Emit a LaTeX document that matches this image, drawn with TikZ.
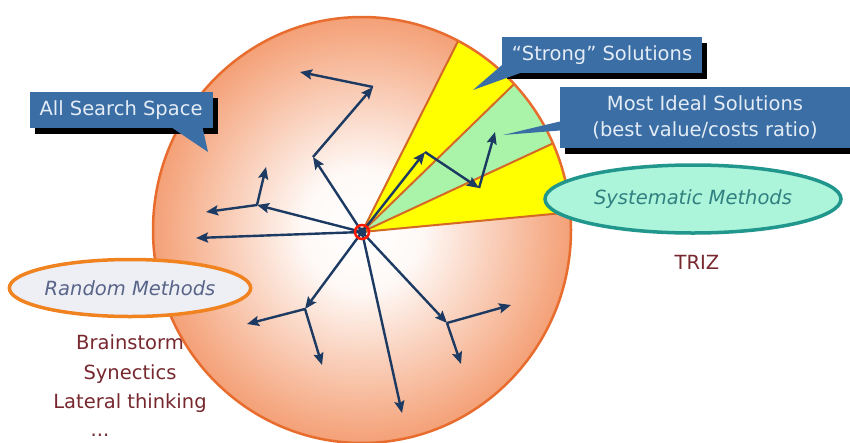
\documentclass[tikz,border=0pt]{standalone}
\usepackage{fontspec}
\setmainfont{DejaVu Sans}
\usetikzlibrary{arrows.meta,shapes.geometric,shadows}

\definecolor{boxblue}{RGB}{58,110,165}
\definecolor{boxtext}{RGB}{228,236,246}
\definecolor{vecnavy}{RGB}{28,58,98}
\definecolor{rimorange}{RGB}{232,108,45}
\definecolor{salmonc}{RGB}{244,160,118}
\definecolor{cutline}{RGB}{212,104,38}
\definecolor{strongyellow}{RGB}{255,255,0}
\definecolor{idealgreen}{RGB}{170,244,170}
\definecolor{sysfill}{RGB}{172,244,218}
\definecolor{sysdraw}{RGB}{32,150,140}
\definecolor{systext}{RGB}{48,128,128}
\definecolor{rndfill}{RGB}{238,238,245}
\definecolor{rnddraw}{RGB}{240,130,32}
\definecolor{rndtext}{RGB}{88,100,136}
\definecolor{maroon}{RGB}{118,40,46}

\pgfdeclareradialshading{searchshade}{\pgfpoint{0bp}{0bp}}{color(0bp)=(white); color(7bp)=(white!94!salmonc); color(25bp)=(salmonc); color(50bp)=(salmonc)}

\tikzset{
  vec/.style={draw=vecnavy, line width=2.4pt, -{Stealth[length=12pt,width=10pt,inset=2pt]}},
  cut/.style={draw=cutline, line width=2pt},
  callout/.style={fill=boxblue, text=boxtext, inner sep=0pt, font=\fontsize{19.5}{26}\selectfont,
    drop shadow={shadow xshift=5pt, shadow yshift=-6pt, fill=black, opacity=1}},
  tail/.style={fill=boxblue},
  method/.style={ellipse, inner sep=0pt, line width=3.5pt, font=\fontsize{19.5}{22}\selectfont\itshape},
  note/.style={text=maroon, font=\fontsize{19.5}{29.5}\selectfont, align=center}
}

\begin{document}
\begin{tikzpicture}[x=1pt, y=-1pt]
  \useasboundingbox (0,0) rectangle (850,442);

  % search space
  \coordinate (o) at (362,230);
  \coordinate (c) at (362,232);
  \path (c) ++(-63.3:300) coordinate (l1);
  \path (c) ++(-44.2:300) coordinate (l2);
  \path (c) ++(-24.9:300) coordinate (l3);
  \path (c) ++(-5.4:300) coordinate (l4);
  \shade[shading=searchshade] (o) ellipse [x radius=209pt, y radius=213pt];
  \begin{scope}
    \clip (o) ellipse [x radius=209pt, y radius=213pt];
    \fill[strongyellow] (c) -- (l1) -- (l2) -- cycle;
    \fill[idealgreen] (c) -- (l2) -- (l3) -- cycle;
    \fill[strongyellow] (c) -- (l3) -- (l4) -- cycle;
    \foreach \l in {l1,l2,l3,l4}
      \draw[cut] (c) -- (\l);
  \end{scope}
  \draw[rimorange, line width=2.5pt] (o) ellipse [x radius=209pt, y radius=213pt];

  % random walk
  \coordinate (a1) at (313,157);
  \coordinate (a2) at (373,87);
  \coordinate (a3) at (300,72);
  \coordinate (b1) at (257,205);
  \coordinate (b2) at (266,167);
  \coordinate (b3) at (206,212);
  \coordinate (d1) at (196,238);
  \coordinate (e1) at (305,309);
  \coordinate (e2) at (247,324);
  \coordinate (e3) at (322,365);
  \coordinate (f1) at (402,413);
  \coordinate (g1) at (447,323);
  \coordinate (g2) at (511,305);
  \coordinate (g3) at (461,364);
  \draw[vec] (c) -- (a1);
  \draw[vec] (a1) -- (a2);
  \draw[vec] (a2) -- (a3);
  \draw[vec] (c) -- (b1);
  \draw[vec] (b1) -- (b2);
  \draw[vec] (b1) -- (b3);
  \draw[vec] (c) -- (d1);
  \draw[vec] (c) -- (e1);
  \draw[vec] (e1) -- (e2);
  \draw[vec] (e1) -- (e3);
  \draw[vec] (c) -- (f1);
  \draw[vec] (c) -- (g1);
  \draw[vec] (g1) -- (g2);
  \draw[vec] (g1) -- (g3);

  % directed walk
  \coordinate (s1) at (425,152);
  \coordinate (s2) at (479,188);
  \coordinate (s3) at (495,132);
  \draw[vec] (c) -- (s1);
  \draw[vec] (s1) -- (s2);
  \draw[vec] (s2) -- (s3);

  \draw[red!80!orange, line width=2.5pt] (c) circle (7pt);
  \fill[vecnavy] (c) circle (4.5pt);

  % methods
  \node[method, draw=rnddraw, fill=rndfill, text=rndtext, minimum width=236pt, minimum height=57pt] (rnd) at (130,288) {Random Methods};
  \node[note] (rndlist) at (130,374) {Brainstorm\\Synectics\\Lateral thinking};
  \node[note] (rnddots) at (100,435) {...};
  \node[method, draw=sysdraw, fill=sysfill, text=systext, minimum width=296pt, minimum height=68pt] (sys) at (693,199) {Systematic Methods};
  \node[note] (triz) at (697,262) {TRIZ};

  % callouts
  \node[callout, minimum width=183pt, minimum height=36pt] (ass) at (121,110) {All Search Space};
  \coordinate (assTip) at (208,152);
  \fill[tail] ([xshift=-40pt]ass.south east) -- (assTip) -- ([xshift=-10pt]ass.south east) -- cycle;

  \node[callout, minimum width=200pt, minimum height=36pt] (strong) at (602,55) {“Strong” Solutions};
  \coordinate (strongTip) at (473,90);
  \fill[tail] ([yshift=8pt]strong.south west) -- (strongTip) -- ([xshift=18pt]strong.south west) -- cycle;

  \node[callout, minimum width=290pt, minimum height=61pt, align=center] (ideal) at (705,117.5) {Most Ideal Solutions\\(best value/costs ratio)};
  \coordinate (idealTip) at (503,135);
  \fill[tail] ([yshift=-4pt]ideal.west) -- (idealTip) -- ([yshift=-13pt]ideal.west) -- cycle;
\end{tikzpicture}
\end{document}
